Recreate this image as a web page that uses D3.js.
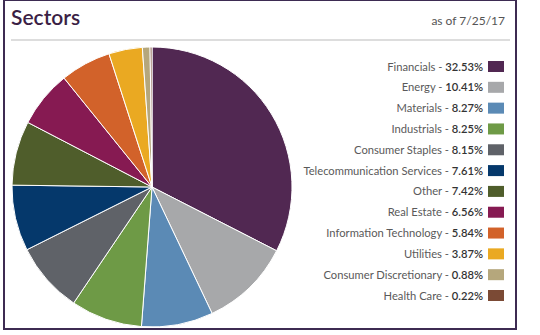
<!DOCTYPE html>
<html><head><meta charset="utf-8">
<script src="https://cdn.jsdelivr.net/npm/d3@7"></script>
<style>html,body{margin:0;padding:0;background:#fff;}</style>
</head><body>
<script>
const sectors = ["Financials","Energy","Materials","Industrials","Consumer Staples","Telecommunication Services","Other","Real Estate","Information Technology","Utilities","Consumer Discretionary","Health Care"];
const weights = [32.53,10.41,8.27,8.25,8.15,7.61,7.42,6.56,5.84,3.87,0.88,0.22];
const colors = ["#512852","#a7a8aa","#5b8ab5","#6e9a46","#5f6268","#05386b","#4f5d2b","#861a52","#d2622a","#eaa922","#b5a77c","#7b4a35"];
const title = "Sectors";
const asOf = "as of 7/25/17";

const W = 540, H = 335;
const svg = d3.select("body").append("svg").attr("width", W).attr("height", H);
const font = "Lato, 'Open Sans', sans-serif";

svg.append("rect").attr("x",4).attr("y",0).attr("width",512).attr("height",329)
  .attr("fill","#fff").attr("stroke","#3d2b52").attr("stroke-width",2);
svg.append("text").attr("x",11).attr("y",25).text(title)
  .attr("font-family",font).attr("font-size",21).attr("font-weight",600).attr("fill","#3b1f45");
svg.append("text").attr("x",505).attr("y",25).attr("text-anchor","end").text(asOf)
  .attr("font-family",font).attr("font-size",12).attr("fill","#555");
svg.append("line").attr("x1",11).attr("x2",510).attr("y1",40).attr("y2",40)
  .attr("stroke","#ddd").attr("stroke-width",2);

const data = sectors.map((s,i)=>({name:s, value:weights[i], color:colors[i]}));
const pie = d3.pie().value(d=>d.value).sort(null);
const arc = d3.arc().innerRadius(0).outerRadius(140);
const g = svg.append("g").attr("transform","translate(152,187)");
g.selectAll("path").data(pie(data)).join("path")
  .attr("d",arc).attr("fill",d=>d.data.color).attr("stroke","#fff").attr("stroke-width",1);

const y = d3.scalePoint().domain(sectors).range([66,295]);
const leg = svg.append("g");
const rows = leg.selectAll("g").data(data).join("g").attr("transform",d=>`translate(0,${y(d.name)})`);
rows.append("rect").attr("x",488).attr("y",-5).attr("width",16).attr("height",11).attr("fill",d=>d.color);
const t = rows.append("text").attr("x",483).attr("y",4.5).attr("text-anchor","end")
  .attr("font-family",font).attr("font-size",11.2);
t.append("tspan").attr("fill","#5a5a5a").text(d=>d.name+" - ");
t.append("tspan").attr("fill","#333").attr("font-weight",600).text(d=>d.value.toFixed(2)+"%");
</script>
</body></html>
